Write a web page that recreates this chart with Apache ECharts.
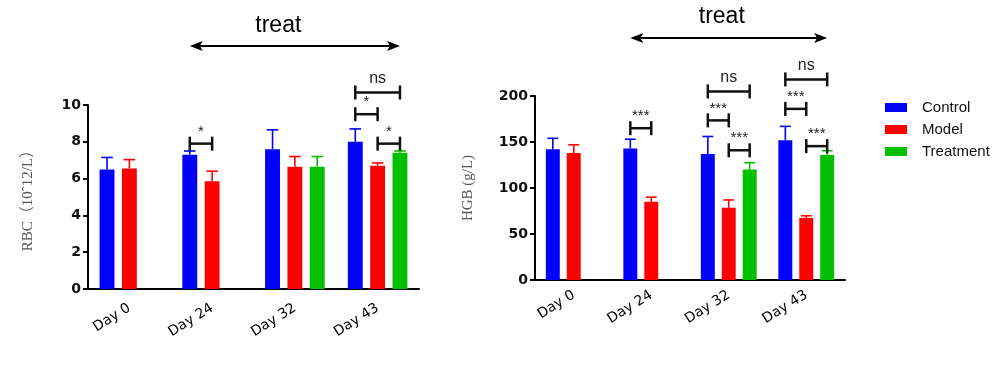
<!DOCTYPE html>
<html><head><meta charset="utf-8">
<script src="https://cdn.jsdelivr.net/npm/echarts@6/dist/echarts.min.js"></script>
<style>html,body{margin:0;padding:0;background:#fff}#c{width:1000px;height:367px}</style>
</head><body><div id="c"></div>
<script>
const categories = ['Day 0', 'Day 24', 'Day 32', 'Day 43'];
const groups = ['Control', 'Model', 'Treatment'];
const colors = ['#0000FF', '#FF0000', '#00C000'];

// RBC (10^12/L): means and upper error (SD)
const rbcControl = [6.5, 7.3, 7.6, 8.0];
const rbcControlErr = [0.65, 0.2, 1.05, 0.7];
const rbcModel = [6.55, 5.85, 6.65, 6.7];
const rbcModelErr = [0.48, 0.55, 0.55, 0.15];
const rbcTreat = [null, null, 6.65, 7.4];
const rbcTreatErr = [null, null, 0.55, 0.1];

// HGB (g/L)
const hgbControl = [142, 143, 137, 152];
const hgbControlErr = [12, 10, 19, 15];
const hgbModel = [138, 85, 78.5, 67.5];
const hgbModelErr = [9, 5, 8.5, 2.3];
const hgbTreat = [null, null, 120, 136];
const hgbTreatErr = [null, null, 7.5, 4.5];

// significance brackets: [category, fromGroup, toGroup, y, label]
const rbcSig = [[1,0,1,7.9,'*'],[3,0,2,10.68,'ns'],[3,0,1,9.5,'*'],[3,1,2,7.9,'*']];
const hgbSig = [[1,0,1,165,'***'],[2,0,2,205,'ns'],[2,0,1,173.5,'***'],[2,1,2,141,'***'],
                [3,0,2,218,'ns'],[3,0,1,186,'***'],[3,1,2,145.5,'***']];

// treat arrows: [fromCat, fromGroup, toCat, toGroup, y, textCat, textShift, textY]
const rbcTreatArrow = [[1,0,3,2,13.2,2,-0.2,14.3]];
const hgbTreatArrow = [[1,0,3,2,263,2,-0.09,286]];

const OFF = 0.27; // group offset as a fraction of band width (barWidth 18%, gap 50%)

function errData(means, errs, g) {
  const out = [];
  means.forEach((m, i) => { if (m != null) out.push([i, m, m + errs[i], g]); });
  return out;
}

function errRender(params, api) {
  const cat = api.value(0), m = api.value(1), u = api.value(2), g = api.value(3);
  const band = api.size([1, 0])[0];
  const p0 = api.coord([cat, m]), p1 = api.coord([cat, u]);
  const x = p0[0] + (g - 1) * OFF * band;
  const cap = band * 0.07;
  const st = { stroke: colors[g], lineWidth: 1.6 };
  return { type: 'group', children: [
    { type: 'line', shape: { x1: x, y1: p0[1], x2: x, y2: p1[1] }, style: st },
    { type: 'line', shape: { x1: x - cap, y1: p1[1], x2: x + cap, y2: p1[1] }, style: st }
  ]};
}

function sigRenderFactory(arr) {
  return function (params, api) {
    const d = arr[params.dataIndex];
    const band = api.size([1, 0])[0];
    const c = api.coord([d[0], d[3]]);
    const x1 = c[0] + (d[1] - 1) * OFF * band, x2 = c[0] + (d[2] - 1) * OFF * band, y = c[1];
    const st = { stroke: '#111', lineWidth: 2.5 };
    const isNs = d[4] === 'ns';
    return { type: 'group', children: [
      { type: 'line', shape: { x1: x1, y1: y, x2: x2, y2: y }, style: st },
      { type: 'line', shape: { x1: x1, y1: y - 7, x2: x1, y2: y + 7 }, style: st },
      { type: 'line', shape: { x1: x2, y1: y - 7, x2: x2, y2: y + 7 }, style: st },
      { type: 'text', style: { x: (x1 + x2) / 2, y: isNs ? y - 6 : y - 12, text: d[4],
          fill: '#222', align: 'center', verticalAlign: isNs ? 'bottom' : 'middle',
          font: isNs ? '16px "Liberation Sans"' : '15px "Liberation Sans"' } }
    ]};
  };
}

function arrowRenderFactory(arr) {
  return function (params, api) {
    const d = arr[params.dataIndex];
    const band = api.size([1, 0])[0];
    const a = api.coord([d[0], d[4]]), b = api.coord([d[2], d[4]]), t = api.coord([d[5], d[7]]);
    const x1 = a[0] + (d[1] - 1) * OFF * band, x2 = b[0] + (d[3] - 1) * OFF * band, y = a[1];
    const hl = 13, hh = 5;
    return { type: 'group', children: [
      { type: 'line', shape: { x1: x1 + 6, y1: y, x2: x2 - 6, y2: y }, style: { stroke: '#000', lineWidth: 2 } },
      { type: 'polygon', shape: { points: [[x1, y], [x1 + hl, y - hh], [x1 + hl - 3, y], [x1 + hl, y + hh]] }, style: { fill: '#000' } },
      { type: 'polygon', shape: { points: [[x2, y], [x2 - hl, y - hh], [x2 - hl + 3, y], [x2 - hl, y + hh]] }, style: { fill: '#000' } },
      { type: 'text', style: { x: t[0] + d[6] * band, y: t[1], text: 'treat', fill: '#000', align: 'center',
          verticalAlign: 'middle', font: '23px "Liberation Sans"' } }
    ]};
  };
}

const axisLineStyle = { color: '#000', width: 2 };
function xAxisCfg(gi, margin) {
  return { type: 'category', gridIndex: gi, data: categories,
    axisLine: { lineStyle: axisLineStyle },
    axisTick: { alignWithLabel: true, length: 6, lineStyle: { width: 2, color: '#000' } },
    axisLabel: { rotate: 32, margin: margin, color: '#000', fontSize: 14, fontFamily: 'DejaVu Sans' } };
}
function yAxisCfg(gi, max, interval, name, gap) {
  return { type: 'value', gridIndex: gi, min: 0, max: max, interval: interval,
    name: name, nameLocation: 'middle', nameRotate: 90, nameGap: gap,
    nameTextStyle: { color: '#555', fontSize: 15, fontFamily: 'Liberation Serif, Noto Sans CJK SC' },
    axisLine: { show: true, lineStyle: axisLineStyle },
    axisTick: { show: true, length: 5, lineStyle: { width: 2, color: '#000' } },
    splitLine: { show: false },
    axisLabel: { color: '#111', fontSize: 14, fontWeight: 'bold', fontFamily: 'DejaVu Sans', margin: 7 } };
}

function barSeries(name, data, g, gi) {
  return { type: 'bar', name: name, xAxisIndex: gi, yAxisIndex: gi, data: data,
    barWidth: '18%', barGap: '50%', itemStyle: { color: colors[g] } };
}

const series = [
  barSeries('Control', rbcControl, 0, 0),
  barSeries('Model', rbcModel, 1, 0),
  barSeries('Treatment', rbcTreat, 2, 0),
  barSeries('Control', hgbControl, 0, 1),
  barSeries('Model', hgbModel, 1, 1),
  barSeries('Treatment', hgbTreat, 2, 1),
  { type: 'custom', name: 'err1', xAxisIndex: 0, yAxisIndex: 0, renderItem: errRender, encode: { x: 0, y: 2 }, z: 3,
    data: [].concat(errData(rbcControl, rbcControlErr, 0), errData(rbcModel, rbcModelErr, 1), errData(rbcTreat, rbcTreatErr, 2)) },
  { type: 'custom', name: 'err2', xAxisIndex: 1, yAxisIndex: 1, renderItem: errRender, encode: { x: 0, y: 2 }, z: 3,
    data: [].concat(errData(hgbControl, hgbControlErr, 0), errData(hgbModel, hgbModelErr, 1), errData(hgbTreat, hgbTreatErr, 2)) },
  { type: 'custom', name: 'sig1', xAxisIndex: 0, yAxisIndex: 0, renderItem: sigRenderFactory(rbcSig), encode: { x: 0, y: 3 }, clip: false, z: 4,
    data: rbcSig.map(d => [d[0], d[1], d[2], d[3]]) },
  { type: 'custom', name: 'sig2', xAxisIndex: 1, yAxisIndex: 1, renderItem: sigRenderFactory(hgbSig), encode: { x: 0, y: 3 }, clip: false, z: 4,
    data: hgbSig.map(d => [d[0], d[1], d[2], d[3]]) },
  { type: 'custom', name: 'arr1', xAxisIndex: 0, yAxisIndex: 0, renderItem: arrowRenderFactory(rbcTreatArrow), encode: { x: 0, y: 4 }, clip: false, z: 4,
    data: rbcTreatArrow.map(d => [d[0], d[1], d[2], d[3], d[4]]) },
  { type: 'custom', name: 'arr2', xAxisIndex: 1, yAxisIndex: 1, renderItem: arrowRenderFactory(hgbTreatArrow), encode: { x: 0, y: 4 }, clip: false, z: 4,
    data: hgbTreatArrow.map(d => [d[0], d[1], d[2], d[3], d[4]]) }
];

const chart = echarts.init(document.getElementById('c'), null, { renderer: 'canvas' });
chart.setOption({
  animation: false,
  backgroundColor: '#fff',
  grid: [
    { left: 88, top: 105, width: 331, height: 184 },
    { left: 535, top: 96, width: 310, height: 184 }
  ],
  xAxis: [xAxisCfg(0, 18), xAxisCfg(1, 14)],
  yAxis: [yAxisCfg(0, 10, 2, 'RBC（10ˆ12/L）', 52), yAxisCfg(1, 200, 50, 'HGB (g/L)', 59)],
  legend: { data: groups, orient: 'vertical', left: 880, top: 95, itemWidth: 22, itemHeight: 9, itemGap: 7,
    icon: 'rect', textStyle: { fontSize: 15, color: '#111', fontFamily: 'Liberation Sans', padding: [0, 0, 0, 10] } },
  series: series
});
</script></body></html>
